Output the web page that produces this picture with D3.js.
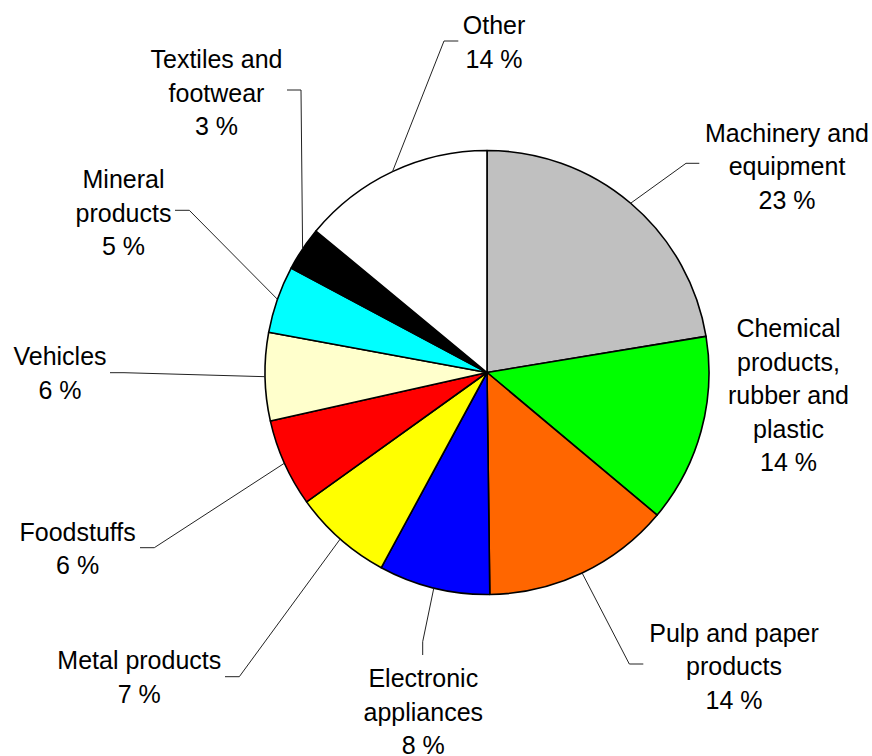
<!DOCTYPE html>
<html>
<head>
<meta charset="utf-8">
<script src="https://cdn.jsdelivr.net/npm/d3@7"></script>
<style>
  body { margin: 0; background: #fff; }
  svg { display: block; }
  text { font-family: "Liberation Sans", Arial, sans-serif; font-size: 25px; fill: #000; }
</style>
</head>
<body>
<div id="chart"></div>
<script>
// Slices, clockwise from 12 o'clock
const categories = [
  'Machinery and equipment', 'Chemical products, rubber and plastic', 'Pulp and paper products',
  'Electronic appliances', 'Metal products', 'Foodstuffs', 'Vehicles', 'Mineral products',
  'Textiles and footwear', 'Other',
];
const shares = [22.4, 13.7, 13.7, 8.1, 7.2, 6.4, 6.4, 4.9, 3.2, 14.0];
const shownPercent = [23, 14, 14, 8, 7, 6, 6, 5, 3, 14];
const labelLines = [
  ['Machinery and', 'equipment'],
  ['Chemical', 'products,', 'rubber and', 'plastic'],
  ['Pulp and paper', 'products'],
  ['Electronic', 'appliances'],
  ['Metal products'],
  ['Foodstuffs'],
  ['Vehicles'],
  ['Mineral', 'products'],
  ['Textiles and', 'footwear'],
  ['Other'],
];
const colors = ['#c0c0c0', '#00ff00', '#ff6600', '#0000ff', '#ffff00', '#ff0000', '#ffffcc', '#00ffff', '#000000', '#ffffff'];

// Label layout: text centre x / first baseline, and leader elbow -> stub end
const labelPos = [
  [787, 141.7], [788.5, 337.3], [734, 641.7], [423.3, 687.3], [139.3, 669.3],
  [77.6, 540.7], [60, 365], [123.5, 188.3], [216.5, 68.3], [494, 34.3],
];
const leaderElbows = [
  [686, 163.3, 699.3, 163.3], null, [629.3, 664, 643.3, 664], [422.7, 641.7, 422.7, 655],
  [239.3, 676.7, 225, 676.7], [154.3, 547.7, 140, 547.7], [124, 372.7, 110, 372.7],
  [189.3, 210.3, 175, 210.3], [301, 90, 287, 90], [444, 41, 458.3, 41],
];

const width = 872;
const height = 756;
const cx = 487;
const cy = 372.5;
const radius = 222;
const lineHeight = 33.5;

function drawChart() {
  const svg = d3.select('#chart').append('svg').attr('width', width).attr('height', height);

  const pie = d3.pie().sort(null).value((d) => d)(shares);
  const arc = d3.arc().innerRadius(0).outerRadius(radius);
  const edgeArc = d3.arc().innerRadius(radius).outerRadius(radius);

  const g = svg.append('g').attr('transform', `translate(${cx},${cy})`);

  g.selectAll('path.slice')
    .data(pie)
    .enter()
    .append('path')
    .attr('class', 'slice')
    .attr('d', arc)
    .attr('fill', (d, i) => colors[i])
    .attr('stroke', '#000')
    .attr('stroke-width', 1.6)
    .attr('stroke-linejoin', 'round');

  // leader lines
  const line = d3.line();
  svg.selectAll('path.leader')
    .data(pie.filter((d, i) => leaderElbows[i]))
    .enter()
    .append('path')
    .attr('class', 'leader')
    .attr('fill', 'none')
    .attr('stroke', '#222')
    .attr('stroke-width', 1)
    .attr('d', (d) => {
      const e = leaderElbows[d.index];
      const [px, py] = edgeArc.centroid(d);
      return line([[px + cx, py + cy], [e[0], e[1]], [e[2], e[3]]]);
    });

  // labels
  const labels = svg.selectAll('text.label')
    .data(categories)
    .enter()
    .append('text')
    .attr('class', 'label')
    .attr('text-anchor', 'middle')
    .attr('x', (d, i) => labelPos[i][0])
    .attr('y', (d, i) => labelPos[i][1]);

  labels.each(function (d, i) {
    const t = d3.select(this);
    const lines = labelLines[i].concat([`${shownPercent[i]} %`]);
    lines.forEach((s, k) => {
      t.append('tspan')
        .attr('x', labelPos[i][0])
        .attr('dy', k === 0 ? 0 : lineHeight)
        .text(s);
    });
  });
}

document.addEventListener('DOMContentLoaded', drawChart);
</script>
</body>
</html>
